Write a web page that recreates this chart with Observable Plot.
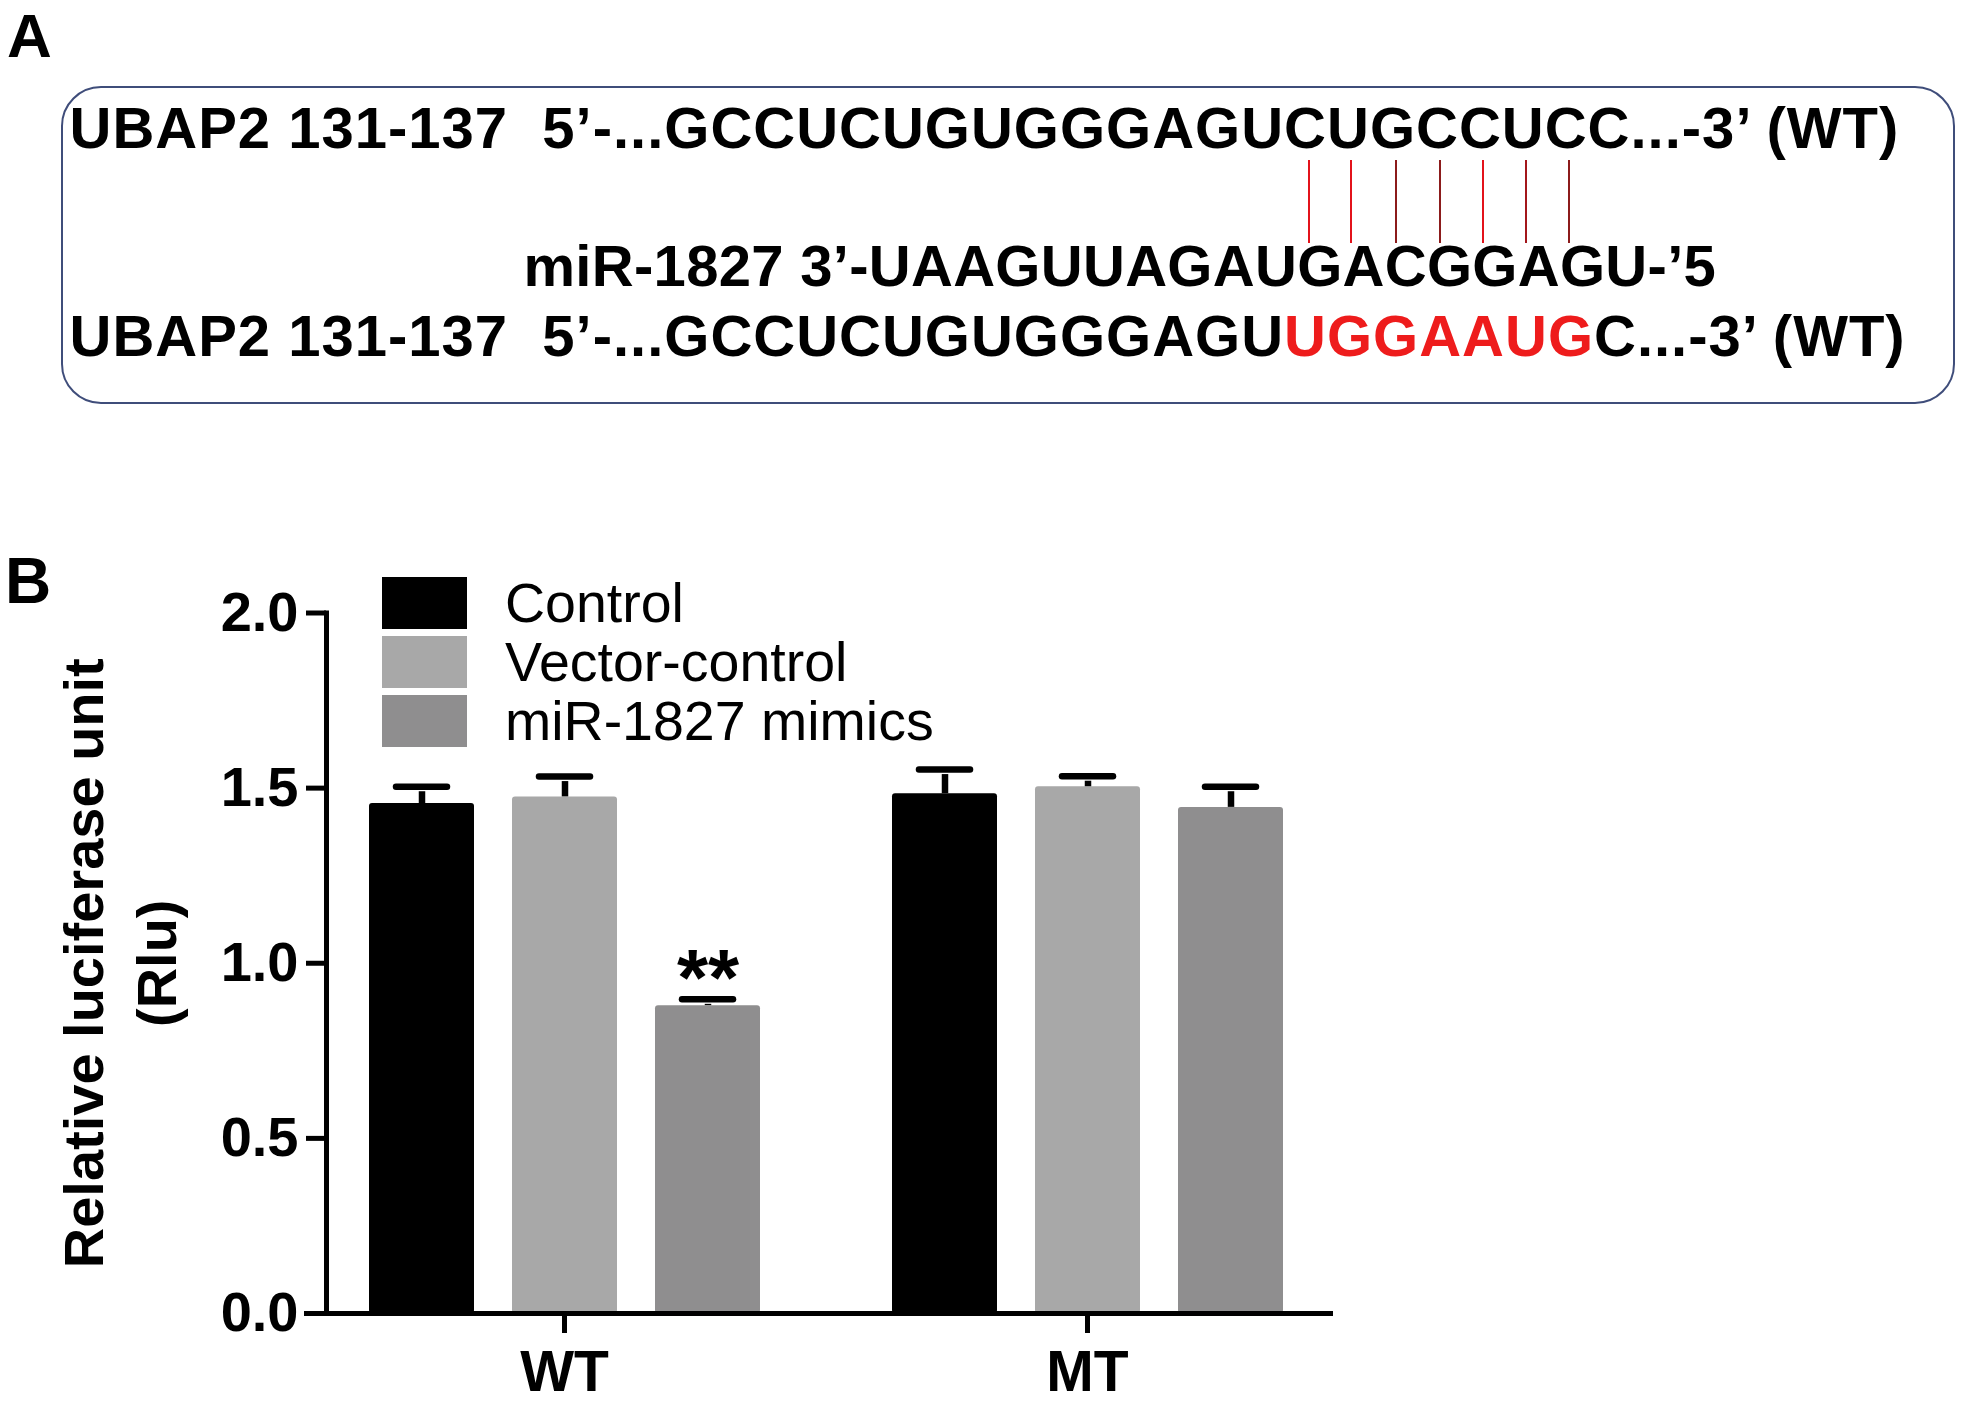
<!DOCTYPE html>
<html>
<head>
<meta charset="utf-8">
<script src="https://cdn.jsdelivr.net/npm/d3@7"></script>
<script src="https://cdn.jsdelivr.net/npm/@observablehq/plot@0.6"></script>
<style>
  html, body { margin: 0; padding: 0; background: #fff; }
  #page { position: relative; width: 1967px; height: 1410px; overflow: hidden;
          font-family: "Liberation Sans", Arial, sans-serif; color: #000; }
  .panel-label { position: absolute; font-weight: bold; line-height: 1; }
  .box { position: absolute; left: 61px; top: 86px; width: 1894px; height: 318px;
         box-sizing: border-box; border: 2px solid #3f4d7a; border-radius: 40px; }
  .seq { position: absolute; font-weight: bold; font-size: 58px; line-height: 58px;
         white-space: pre; letter-spacing: 1px; }
  .red { color: #ee1c1c; }
  .link { position: absolute; width: 2px; }
  #chart { position: absolute; left: 0; top: 520px; }
  .lg-swatches { position: absolute; left: 382px; top: 577px; margin: 0; width: 640px;
                 font-family: "Liberation Sans", Arial, sans-serif; font-size: 55.5px; color: #000; }
  .lg-swatch { padding-bottom: 7px; }
  .lg-swatch > svg { margin-right: 38px; }
  .lg-swatch-label { line-height: 52px; overflow: visible !important; }
</style>
</head>
<body>
<div id="page">
  <div class="panel-label" style="left:7px; top:4.5px; font-size:62px;">A</div>
  <div class="box"></div>
  <div id="line1" class="seq" style="left:69.5px; top:99.4px;"></div>
  <div id="line2" class="seq" style="left:523.5px; top:237px; letter-spacing:0.3px;"></div>
  <div id="line3" class="seq" style="left:69.5px; top:307.4px;"></div>
  <div class="panel-label" style="left:5px; top:548.8px; font-size:64px;">B</div>
  <div id="chart"></div>
</div>
<script>
// ---------- Panel A text ----------
const sitePrefix = "UBAP2 131-137  5\u2019-...";
const wtSeqHead = "GCCUCUGUGGGAGU";
const wtSeqSite = "CUGCCUC";
const wtSeqTail = "C...-3\u2019 (WT)";
const mirLine = "miR-1827 3\u2019-UAAGUUAGAUGACGGAGU-\u20195";
const mutSeqHead = "GCCUCUGUGGGAGU";
const mutSeqSite = "UGGAAUG";
const mutSeqTail = "C...-3\u2019 (WT)";
const pairColors = ["#e3131b", "#e3131b", "#8c1b1b", "#8c1b1b", "#e3131b", "#a3161b", "#8c1b1b"];

// ---------- Panel B data ----------
const groups = ["WT", "MT"];
const series = ["Control", "Vector-control", "miR-1827 mimics"];
const wtValues = [1.456, 1.475, 0.879];
const wtErrors = [0.048, 0.058, 0.018];
const mtValues = [1.484, 1.504, 1.445];
const mtErrors = [0.069, 0.030, 0.059];
const wtSignif = ["", "", "**"];
const mtSignif = ["", "", ""];
const yTicks = [0, 0.5, 1.0, 1.5, 2.0];
const barColors = ["#000000", "#a8a8a8", "#8f8e8f"];
const yTitle = "Relative luciferase unit\n(Rlu)";

// ---------- build panel A ----------
const line1 = document.getElementById("line1");
line1.append(sitePrefix + wtSeqHead);
const pairSpans = [];
for (const ch of wtSeqSite) {
  const s = document.createElement("span");
  s.textContent = ch;
  line1.append(s);
  pairSpans.push(s);
}
line1.append(wtSeqTail);
document.getElementById("line2").textContent = mirLine;
const line3 = document.getElementById("line3");
line3.append(sitePrefix + mutSeqHead);
const redSpan = document.createElement("span");
redSpan.className = "red";
redSpan.textContent = mutSeqSite;
line3.append(redSpan, mutSeqTail);

function drawLinks() {
  const page = document.getElementById("page").getBoundingClientRect();
  const l1 = line1.getBoundingClientRect();
  const l2 = document.getElementById("line2").getBoundingClientRect();
  pairSpans.forEach((s, i) => {
    const r = s.getBoundingClientRect();
    const d = document.createElement("div");
    d.className = "link";
    d.style.left = (r.left + r.width / 2 + 2 - page.left) + "px";
    d.style.top = (l1.bottom + 3 - page.top) + "px";
    d.style.height = (l2.top + 6 - l1.bottom - 3) + "px";
    d.style.background = pairColors[i];
    document.getElementById("page").append(d);
  });
}
(document.fonts ? document.fonts.ready : Promise.resolve()).then(drawLinks);

// ---------- build panel B ----------
const valueSets = [wtValues, mtValues];
const errorSets = [wtErrors, mtErrors];
const signifSets = [wtSignif, mtSignif];
const rows = [];
groups.forEach((g, gi) => {
  series.forEach((s, si) => {
    const v = valueSets[gi][si], e = errorSets[gi][si];
    rows.push({group: g, series: s, value: v, top: v + e, mark: signifSets[gi][si]});
  });
});

const chart = Plot.plot({
  width: 1400,
  height: 890,
  marginTop: 92.5,
  marginBottom: 97,
  marginLeft: 326,
  marginRight: 75,
  facet: {marginTop: 0, marginBottom: 0, marginLeft: 0, marginRight: 0},
  style: {fontFamily: "'Liberation Sans', Arial, sans-serif", fontWeight: "bold", fontSize: "56px", color: "#000", background: "transparent"},
  fx: {domain: groups, paddingInner: 0.0899, paddingOuter: 0, axis: null},
  x: {domain: series, paddingInner: 0.266, paddingOuter: 0.297, axis: null},
  y: {domain: [0, 2], axis: null},
  color: {domain: series, range: barColors},
  marks: [
    Plot.barY(rows, {fx: "group", x: "series", y: "value", fill: "series", rx: 3}),
    Plot.ruleX(rows, {fx: "group", x: "series", y1: "value", y2: "top", stroke: "#000", strokeWidth: 6.5, insetBottom: -5}),
    Plot.tickY(rows, {fx: "group", x: "series", y: "top", stroke: "#000", strokeWidth: 6.5, strokeLinecap: "round", inset: 27}),
    Plot.text(rows, {fx: "group", x: "series", y: "top", text: "mark", fontSize: 80, dy: -20}),
    Plot.axisY({ticks: yTicks, tickFormat: d3.format(".1f"), tickSize: 20, tickPadding: 8, strokeWidth: 5, fontSize: 56, label: null}),
    Plot.axisFx({anchor: "bottom", tickSize: 20, tickPadding: 17, strokeWidth: 5, fontSize: 57, label: null}),
    Plot.frame({anchor: "left", stroke: "#000", strokeWidth: 5, facet: "super"}),
    Plot.frame({anchor: "bottom", stroke: "#000", strokeWidth: 5, insetLeft: -20, insetRight: -5, facet: "super"}),
    Plot.text([yTitle], {frameAnchor: "left", textAnchor: "middle", rotate: -90, dx: -275, lineAnchor: "top", lineHeight: 1.3, fontSize: 56, facet: "super"})
  ]
});
document.getElementById("chart").append(chart);

const legend = Plot.legend({
  legend: "swatches",
  color: {domain: series, range: barColors},
  columns: 1,
  swatchWidth: 85,
  swatchHeight: 52,
  className: "lg"
});
document.getElementById("page").append(legend);
</script>
</body>
</html>
